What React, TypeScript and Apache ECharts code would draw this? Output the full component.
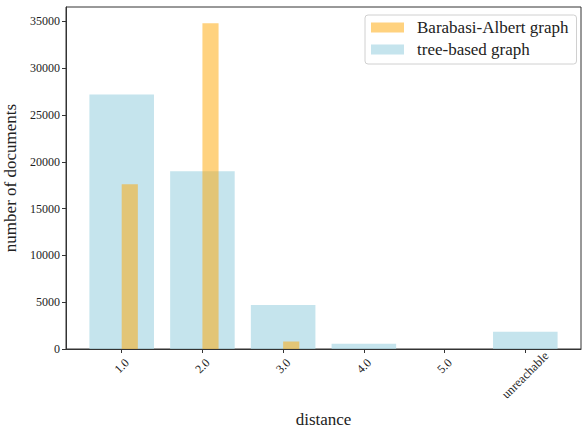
import React, { useEffect, useRef } from "react";
import * as echarts from "echarts";

const categories = ["1.0", "2.0", "3.0", "4.0", "5.0", "unreachable"];
const baValues = [17600, 34800, 800, 0, 0, 0];
const treeValues = [27200, 19000, 4700, 550, 0, 1850];
const yTicks = [0, 5000, 10000, 15000, 20000, 25000, 30000, 35000];

const FONT = "'Liberation Serif', 'DejaVu Serif', serif";

function makeRender(off0: number, off1: number, fill: string) {
  return (params: any, api: any) => {
    const i = api.value(0);
    const v = api.value(1);
    const p0 = api.coord([i + off0, 0]);
    const p1 = api.coord([i + off1, v]);
    return {
      type: "rect",
      shape: { x: p0[0], y: p1[1], width: p1[0] - p0[0], height: p0[1] - p1[1] },
      style: { fill },
    };
  };
}

export default function App() {
  const ref = useRef<HTMLDivElement>(null);
  useEffect(() => {
    if (!ref.current) return;
    const chart = echarts.init(ref.current, null, { renderer: "svg" });
    const orange = "rgba(255,165,0,0.5)";
    const blue = "rgba(173,216,230,0.7)";
    chart.setOption({
      animation: false,
      grid: {
        left: 66,
        right: 1,
        top: 7,
        bottom: 80,
        outerBoundsMode: "none",
        containLabel: false,
        show: true,
        borderColor: "#333",
        borderWidth: 1,
        backgroundColor: "transparent",
      },
      legend: {
        orient: "vertical",
        left: 365,
        top: 15,
        data: ["Barabasi-Albert graph", "tree-based graph"],
        itemWidth: 33,
        itemHeight: 10,
        itemGap: 5,
        icon: "rect",
        padding: [4, 8, 6, 6],
        borderColor: "#d0d0d0",
        borderWidth: 1,
        borderRadius: 3,
        textStyle: { fontFamily: FONT, fontSize: 17, color: "#222", lineHeight: 17, padding: [0, 0, 0, 8] },
      },
      xAxis: {
        type: "value",
        min: -0.69,
        max: 5.69,
        name: "distance",
        nameLocation: "middle",
        nameGap: 62,
        nameTextStyle: { fontFamily: FONT, fontSize: 17, lineHeight: 17, color: "#222" },
        splitLine: { show: false },
        axisLine: { onZero: false, lineStyle: { color: "#333", width: 1 } },
        axisTick: { customValues: [0, 1, 2, 3, 4, 5], length: 4, lineStyle: { color: "#333" } },
        axisLabel: {
          customValues: [0, 1, 2, 3, 4, 5],
          formatter: (v: number) => {
            const t = categories[Math.round(v)] ?? "";
            return t.length > 4 ? `{u|${t}}` : `{s|${t}}`;
          },
          rotate: 45,
          align: "center",
          verticalAlign: "middle",
          fontFamily: FONT,
          fontSize: 12,
          color: "#222",
          margin: 17,
          rich: {
            s: { fontFamily: FONT, fontSize: 12, color: "#222" },
            u: { fontFamily: FONT, fontSize: 12.5, color: "#222", padding: [13, 13, 0, 0] },
          },
        },
      },
      yAxis: {
        type: "value",
        min: 0,
        max: 36540,
        name: "number of documents",
        nameLocation: "middle",
        nameGap: 42,
        nameTextStyle: { fontFamily: FONT, fontSize: 17, color: "#222" },
        splitLine: { show: false },
        axisLine: { show: true, onZero: false, lineStyle: { color: "#333", width: 1 } },
        axisTick: { show: true, customValues: yTicks, length: 4, lineStyle: { color: "#333" } },
        axisLabel: {
          customValues: yTicks,
          formatter: (v: number) => String(v),
          fontFamily: FONT,
          fontSize: 12,
          color: "#222",
          margin: 6,
        },
      },
      series: [
        {
          name: "tree-based graph",
          type: "custom",
          itemStyle: { color: blue },
          renderItem: makeRender(-0.4, 0.4, blue),
          encode: { x: 0, y: 1 },
          data: treeValues.map((v, i) => [i, v]),
        },
        {
          name: "Barabasi-Albert graph",
          type: "custom",
          itemStyle: { color: orange },
          renderItem: makeRender(0, 0.2, orange),
          encode: { x: 0, y: 1 },
          data: baValues.map((v, i) => [i, v]),
        },
      ],
    });
    return () => chart.dispose();
  }, []);
  return (
    <div
      ref={ref}
      style={{ position: "fixed", left: 0, top: 0, width: 582, height: 429, background: "#fff" }}
    />
  );
}
